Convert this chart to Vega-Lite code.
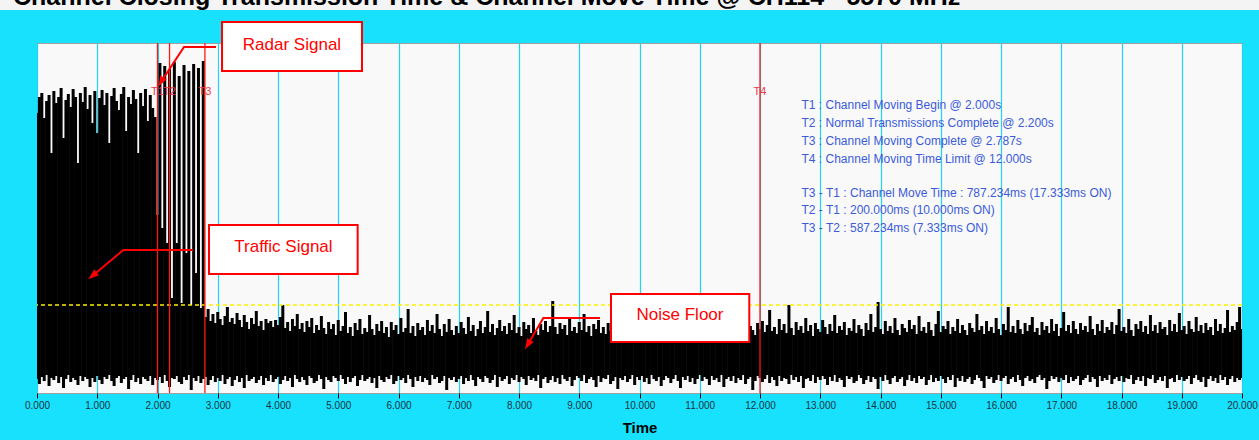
{
"$schema":"https://vega.github.io/schema/vega-lite/v6.json",
"width":1205,"height":350,
"autosize":{"type":"none"},
"padding":{"left":37,"top":43,"right":17,"bottom":47},
"background":"#17e1fd",
"config":{"view":{"fill":"#f9f9f9","stroke":"#a0a0a0","strokeWidth":1},"font":"Liberation Sans"},
"datasets":{
"sig":[
{"t":0,"hi":280,"lo":14},{"t":0.04,"hi":296,"lo":9},{"t":0.08,"hi":300,"lo":16},{"t":0.12,"hi":275,"lo":12},{"t":0.16,"hi":292,"lo":18},{"t":0.2,"hi":298,"lo":7},{"t":0.24,"hi":240,"lo":15},{"t":0.28,"hi":302,"lo":13},{"t":0.32,"hi":290,"lo":17},{"t":0.36,"hi":296,"lo":10},{"t":0.4,"hi":305,"lo":16},{"t":0.44,"hi":255,"lo":5},{"t":0.48,"hi":293,"lo":14},{"t":0.52,"hi":299,"lo":18},{"t":0.56,"hi":286,"lo":11},{"t":0.6,"hi":304,"lo":15},{"t":0.64,"hi":296,"lo":13},{"t":0.68,"hi":230,"lo":8},{"t":0.72,"hi":300,"lo":17},{"t":0.76,"hi":291,"lo":12},{"t":0.8,"hi":306,"lo":16},{"t":0.84,"hi":284,"lo":14},{"t":0.88,"hi":298,"lo":6},{"t":0.92,"hi":270,"lo":15},{"t":0.96,"hi":302,"lo":11},
{"t":1,"hi":260,"lo":17},{"t":1.04,"hi":295,"lo":13},{"t":1.08,"hi":303,"lo":9},{"t":1.12,"hi":288,"lo":16},{"t":1.16,"hi":300,"lo":14},{"t":1.2,"hi":250,"lo":18},{"t":1.24,"hi":297,"lo":12},{"t":1.28,"hi":305,"lo":7},{"t":1.32,"hi":292,"lo":15},{"t":1.36,"hi":283,"lo":17},{"t":1.4,"hi":299,"lo":10},{"t":1.44,"hi":306,"lo":14},{"t":1.48,"hi":262,"lo":16},{"t":1.52,"hi":296,"lo":4},{"t":1.56,"hi":289,"lo":13},{"t":1.6,"hi":303,"lo":18},{"t":1.64,"hi":294,"lo":11},{"t":1.68,"hi":240,"lo":15},{"t":1.72,"hi":300,"lo":9},{"t":1.76,"hi":287,"lo":16},{"t":1.8,"hi":304,"lo":14},{"t":1.84,"hi":272,"lo":12},{"t":1.88,"hi":298,"lo":17},{"t":1.92,"hi":285,"lo":8},{"t":1.96,"hi":276,"lo":15},
{"t":2,"hi":178,"lo":13},{"t":2.04,"hi":330,"lo":16},{"t":2.08,"hi":165,"lo":10},{"t":2.12,"hi":327,"lo":18},{"t":2.16,"hi":150,"lo":12},{"t":2.2,"hi":324,"lo":6},{"t":2.24,"hi":95,"lo":15},{"t":2.28,"hi":331,"lo":14},{"t":2.32,"hi":150,"lo":17},{"t":2.36,"hi":317,"lo":11},{"t":2.4,"hi":90,"lo":9},{"t":2.44,"hi":328,"lo":16},{"t":2.48,"hi":140,"lo":13},{"t":2.52,"hi":322,"lo":18},{"t":2.56,"hi":88,"lo":3},{"t":2.6,"hi":329,"lo":15},{"t":2.64,"hi":120,"lo":12},{"t":2.68,"hi":325,"lo":17},{"t":2.72,"hi":85,"lo":10},{"t":2.76,"hi":332,"lo":14},{"t":2.8,"hi":76,"lo":16},{"t":2.84,"hi":84,"lo":8},{"t":2.88,"hi":72,"lo":13},{"t":2.92,"hi":79,"lo":17},{"t":2.96,"hi":70,"lo":11},
{"t":3,"hi":81,"lo":15},{"t":3.04,"hi":74,"lo":12},{"t":3.08,"hi":68,"lo":18},{"t":3.12,"hi":77,"lo":9},{"t":3.16,"hi":86,"lo":14},{"t":3.2,"hi":71,"lo":16},{"t":3.24,"hi":75,"lo":7},{"t":3.28,"hi":69,"lo":13},{"t":3.32,"hi":80,"lo":17},{"t":3.36,"hi":73,"lo":11},{"t":3.4,"hi":66,"lo":15},{"t":3.44,"hi":78,"lo":5},{"t":3.48,"hi":71,"lo":18},{"t":3.52,"hi":64,"lo":12},{"t":3.56,"hi":75,"lo":14},{"t":3.6,"hi":69,"lo":16},{"t":3.64,"hi":82,"lo":10},{"t":3.68,"hi":67,"lo":13},{"t":3.72,"hi":72,"lo":17},{"t":3.76,"hi":63,"lo":8},{"t":3.8,"hi":74,"lo":15},{"t":3.84,"hi":70,"lo":12},{"t":3.88,"hi":72,"lo":18},{"t":3.92,"hi":66,"lo":11},{"t":3.96,"hi":73,"lo":14},
{"t":4,"hi":68,"lo":16},{"t":4.04,"hi":76,"lo":9},{"t":4.08,"hi":88,"lo":13},{"t":4.12,"hi":65,"lo":17},{"t":4.16,"hi":71,"lo":12},{"t":4.2,"hi":62,"lo":15},{"t":4.24,"hi":74,"lo":6},{"t":4.28,"hi":67,"lo":18},{"t":4.32,"hi":79,"lo":14},{"t":4.36,"hi":64,"lo":11},{"t":4.4,"hi":70,"lo":16},{"t":4.44,"hi":61,"lo":13},{"t":4.48,"hi":72,"lo":8},{"t":4.52,"hi":66,"lo":17},{"t":4.56,"hi":75,"lo":15},{"t":4.6,"hi":60,"lo":10},{"t":4.64,"hi":68,"lo":12},{"t":4.68,"hi":63,"lo":18},{"t":4.72,"hi":77,"lo":14},{"t":4.76,"hi":65,"lo":4},{"t":4.8,"hi":59,"lo":16},{"t":4.84,"hi":71,"lo":13},{"t":4.88,"hi":64,"lo":11},{"t":4.92,"hi":69,"lo":17},{"t":4.96,"hi":58,"lo":15},
{"t":5,"hi":73,"lo":12},{"t":5.04,"hi":62,"lo":18},{"t":5.08,"hi":67,"lo":14},{"t":5.12,"hi":81,"lo":9},{"t":5.16,"hi":60,"lo":16},{"t":5.2,"hi":66,"lo":11},{"t":5.24,"hi":57,"lo":15},{"t":5.28,"hi":70,"lo":17},{"t":5.32,"hi":63,"lo":7},{"t":5.36,"hi":74,"lo":13},{"t":5.4,"hi":59,"lo":18},{"t":5.44,"hi":65,"lo":12},{"t":5.48,"hi":61,"lo":14},{"t":5.52,"hi":78,"lo":16},{"t":5.56,"hi":64,"lo":10},{"t":5.6,"hi":58,"lo":15},{"t":5.64,"hi":69,"lo":5},{"t":5.68,"hi":62,"lo":17},{"t":5.72,"hi":72,"lo":13},{"t":5.76,"hi":60,"lo":11},{"t":5.8,"hi":66,"lo":16},{"t":5.84,"hi":56,"lo":14},{"t":5.88,"hi":71,"lo":18},{"t":5.92,"hi":63,"lo":9},{"t":5.96,"hi":68,"lo":12},
{"t":6,"hi":59,"lo":17},{"t":6.04,"hi":75,"lo":13},{"t":6.08,"hi":61,"lo":15},{"t":6.12,"hi":65,"lo":10},{"t":6.16,"hi":84,"lo":18},{"t":6.2,"hi":60,"lo":14},{"t":6.24,"hi":67,"lo":6},{"t":6.28,"hi":57,"lo":16},{"t":6.32,"hi":70,"lo":12},{"t":6.36,"hi":63,"lo":17},{"t":6.4,"hi":66,"lo":11},{"t":6.44,"hi":58,"lo":15},{"t":6.48,"hi":73,"lo":13},{"t":6.52,"hi":62,"lo":8},{"t":6.56,"hi":68,"lo":18},{"t":6.6,"hi":60,"lo":14},{"t":6.64,"hi":79,"lo":16},{"t":6.68,"hi":64,"lo":10},{"t":6.72,"hi":57,"lo":12},{"t":6.76,"hi":69,"lo":17},{"t":6.8,"hi":61,"lo":3},{"t":6.84,"hi":74,"lo":15},{"t":6.88,"hi":63,"lo":13},{"t":6.92,"hi":58,"lo":16},{"t":6.96,"hi":67,"lo":11},
{"t":7,"hi":60,"lo":14},{"t":7.04,"hi":71,"lo":17},{"t":7.08,"hi":65,"lo":9},{"t":7.12,"hi":59,"lo":15},{"t":7.16,"hi":76,"lo":12},{"t":7.2,"hi":62,"lo":18},{"t":7.24,"hi":68,"lo":13},{"t":7.28,"hi":57,"lo":7},{"t":7.32,"hi":64,"lo":16},{"t":7.36,"hi":72,"lo":14},{"t":7.4,"hi":60,"lo":11},{"t":7.44,"hi":66,"lo":17},{"t":7.48,"hi":82,"lo":15},{"t":7.52,"hi":61,"lo":10},{"t":7.56,"hi":69,"lo":13},{"t":7.6,"hi":58,"lo":18},{"t":7.64,"hi":65,"lo":6},{"t":7.68,"hi":73,"lo":16},{"t":7.72,"hi":62,"lo":12},{"t":7.76,"hi":67,"lo":14},{"t":7.8,"hi":59,"lo":17},{"t":7.84,"hi":70,"lo":9},{"t":7.88,"hi":63,"lo":15},{"t":7.92,"hi":78,"lo":13},{"t":7.96,"hi":60,"lo":18},
{"t":8,"hi":66,"lo":11},{"t":8.04,"hi":57,"lo":16},{"t":8.08,"hi":71,"lo":14},{"t":8.12,"hi":64,"lo":8},{"t":8.16,"hi":68,"lo":17},{"t":8.2,"hi":60,"lo":13},{"t":8.24,"hi":75,"lo":15},{"t":8.28,"hi":62,"lo":12},{"t":8.32,"hi":58,"lo":18},{"t":8.36,"hi":69,"lo":5},{"t":8.4,"hi":63,"lo":14},{"t":8.44,"hi":72,"lo":16},{"t":8.48,"hi":61,"lo":10},{"t":8.52,"hi":67,"lo":13},{"t":8.56,"hi":92,"lo":17},{"t":8.6,"hi":66,"lo":11},{"t":8.64,"hi":59,"lo":15},{"t":8.68,"hi":70,"lo":9},{"t":8.72,"hi":64,"lo":18},{"t":8.76,"hi":68,"lo":14},{"t":8.8,"hi":58,"lo":12},{"t":8.84,"hi":74,"lo":16},{"t":8.88,"hi":62,"lo":7},{"t":8.92,"hi":66,"lo":13},{"t":8.96,"hi":60,"lo":17},
{"t":9,"hi":71,"lo":15},{"t":9.04,"hi":63,"lo":12},{"t":9.08,"hi":79,"lo":18},{"t":9.12,"hi":61,"lo":10},{"t":9.16,"hi":67,"lo":14},{"t":9.2,"hi":57,"lo":16},{"t":9.24,"hi":69,"lo":13},{"t":9.28,"hi":64,"lo":6},{"t":9.32,"hi":73,"lo":17},{"t":9.36,"hi":60,"lo":11},{"t":9.4,"hi":66,"lo":15},{"t":9.44,"hi":59,"lo":14},{"t":9.48,"hi":70,"lo":18},{"t":9.52,"hi":62,"lo":9},{"t":9.56,"hi":76,"lo":12},{"t":9.6,"hi":61,"lo":16},{"t":9.64,"hi":68,"lo":4},{"t":9.68,"hi":58,"lo":15},{"t":9.72,"hi":65,"lo":13},{"t":9.76,"hi":72,"lo":17},{"t":9.8,"hi":60,"lo":11},{"t":9.84,"hi":67,"lo":14},{"t":9.88,"hi":63,"lo":18},{"t":9.92,"hi":81,"lo":8},{"t":9.96,"hi":59,"lo":16},
{"t":10,"hi":66,"lo":13},{"t":10.04,"hi":62,"lo":17},{"t":10.08,"hi":70,"lo":11},{"t":10.12,"hi":57,"lo":15},{"t":10.16,"hi":64,"lo":9},{"t":10.2,"hi":73,"lo":18},{"t":10.24,"hi":60,"lo":14},{"t":10.28,"hi":67,"lo":12},{"t":10.32,"hi":61,"lo":16},{"t":10.36,"hi":75,"lo":7},{"t":10.4,"hi":58,"lo":13},{"t":10.44,"hi":65,"lo":17},{"t":10.48,"hi":62,"lo":15},{"t":10.52,"hi":69,"lo":10},{"t":10.56,"hi":60,"lo":14},{"t":10.6,"hi":77,"lo":18},{"t":10.64,"hi":63,"lo":12},{"t":10.68,"hi":57,"lo":5},{"t":10.72,"hi":68,"lo":16},{"t":10.76,"hi":61,"lo":13},{"t":10.8,"hi":72,"lo":17},{"t":10.84,"hi":59,"lo":11},{"t":10.88,"hi":66,"lo":15},{"t":10.92,"hi":63,"lo":9},{"t":10.96,"hi":70,"lo":14},
{"t":11,"hi":58,"lo":18},{"t":11.04,"hi":74,"lo":12},{"t":11.08,"hi":62,"lo":16},{"t":11.12,"hi":67,"lo":14},{"t":11.16,"hi":60,"lo":8},{"t":11.2,"hi":80,"lo":17},{"t":11.24,"hi":64,"lo":13},{"t":11.28,"hi":57,"lo":15},{"t":11.32,"hi":69,"lo":11},{"t":11.36,"hi":61,"lo":18},{"t":11.4,"hi":66,"lo":6},{"t":11.44,"hi":59,"lo":14},{"t":11.48,"hi":73,"lo":16},{"t":11.52,"hi":63,"lo":12},{"t":11.56,"hi":68,"lo":17},{"t":11.6,"hi":58,"lo":10},{"t":11.64,"hi":71,"lo":15},{"t":11.68,"hi":62,"lo":13},{"t":11.72,"hi":65,"lo":18},{"t":11.76,"hi":76,"lo":9},{"t":11.8,"hi":60,"lo":14},{"t":11.84,"hi":67,"lo":16},{"t":11.88,"hi":63,"lo":3},{"t":11.92,"hi":58,"lo":12},{"t":11.96,"hi":70,"lo":17},
{"t":12,"hi":64,"lo":15},{"t":12.04,"hi":72,"lo":11},{"t":12.08,"hi":61,"lo":14},{"t":12.12,"hi":68,"lo":18},{"t":12.16,"hi":83,"lo":10},{"t":12.2,"hi":62,"lo":16},{"t":12.24,"hi":66,"lo":13},{"t":12.28,"hi":59,"lo":7},{"t":12.32,"hi":74,"lo":17},{"t":12.36,"hi":63,"lo":12},{"t":12.4,"hi":69,"lo":15},{"t":12.44,"hi":60,"lo":14},{"t":12.48,"hi":88,"lo":9},{"t":12.52,"hi":65,"lo":18},{"t":12.56,"hi":58,"lo":13},{"t":12.6,"hi":71,"lo":16},{"t":12.64,"hi":63,"lo":11},{"t":12.68,"hi":67,"lo":17},{"t":12.72,"hi":60,"lo":5},{"t":12.76,"hi":75,"lo":14},{"t":12.8,"hi":62,"lo":15},{"t":12.84,"hi":68,"lo":12},{"t":12.88,"hi":57,"lo":18},{"t":12.92,"hi":70,"lo":10},{"t":12.96,"hi":64,"lo":16},
{"t":13,"hi":61,"lo":13},{"t":13.04,"hi":73,"lo":17},{"t":13.08,"hi":66,"lo":14},{"t":13.12,"hi":59,"lo":8},{"t":13.16,"hi":69,"lo":16},{"t":13.2,"hi":62,"lo":12},{"t":13.24,"hi":78,"lo":18},{"t":13.28,"hi":60,"lo":11},{"t":13.32,"hi":67,"lo":15},{"t":13.36,"hi":63,"lo":13},{"t":13.4,"hi":71,"lo":6},{"t":13.44,"hi":58,"lo":17},{"t":13.48,"hi":65,"lo":14},{"t":13.52,"hi":62,"lo":16},{"t":13.56,"hi":74,"lo":10},{"t":13.6,"hi":60,"lo":12},{"t":13.64,"hi":68,"lo":18},{"t":13.68,"hi":64,"lo":15},{"t":13.72,"hi":57,"lo":9},{"t":13.76,"hi":70,"lo":13},{"t":13.8,"hi":63,"lo":17},{"t":13.84,"hi":79,"lo":11},{"t":13.88,"hi":61,"lo":16},{"t":13.92,"hi":66,"lo":14},{"t":13.96,"hi":91,"lo":4},
{"t":14,"hi":64,"lo":16},{"t":14.04,"hi":59,"lo":12},{"t":14.08,"hi":72,"lo":18},{"t":14.12,"hi":62,"lo":13},{"t":14.16,"hi":67,"lo":9},{"t":14.2,"hi":60,"lo":15},{"t":14.24,"hi":75,"lo":17},{"t":14.28,"hi":63,"lo":11},{"t":14.32,"hi":58,"lo":14},{"t":14.36,"hi":69,"lo":16},{"t":14.4,"hi":65,"lo":7},{"t":14.44,"hi":61,"lo":13},{"t":14.48,"hi":73,"lo":18},{"t":14.52,"hi":64,"lo":12},{"t":14.56,"hi":68,"lo":15},{"t":14.6,"hi":59,"lo":10},{"t":14.64,"hi":77,"lo":17},{"t":14.68,"hi":62,"lo":14},{"t":14.72,"hi":66,"lo":16},{"t":14.76,"hi":60,"lo":8},{"t":14.8,"hi":71,"lo":13},{"t":14.84,"hi":63,"lo":18},{"t":14.88,"hi":57,"lo":11},{"t":14.92,"hi":69,"lo":15},{"t":14.96,"hi":82,"lo":12},
{"t":15,"hi":61,"lo":17},{"t":15.04,"hi":67,"lo":14},{"t":15.08,"hi":64,"lo":10},{"t":15.12,"hi":72,"lo":16},{"t":15.16,"hi":59,"lo":13},{"t":15.2,"hi":66,"lo":18},{"t":15.24,"hi":62,"lo":6},{"t":15.28,"hi":74,"lo":15},{"t":15.32,"hi":60,"lo":12},{"t":15.36,"hi":68,"lo":17},{"t":15.4,"hi":63,"lo":11},{"t":15.44,"hi":58,"lo":14},{"t":15.48,"hi":70,"lo":16},{"t":15.52,"hi":65,"lo":9},{"t":15.56,"hi":61,"lo":13},{"t":15.6,"hi":79,"lo":18},{"t":15.64,"hi":63,"lo":15},{"t":15.68,"hi":67,"lo":12},{"t":15.72,"hi":59,"lo":5},{"t":15.76,"hi":72,"lo":17},{"t":15.8,"hi":62,"lo":14},{"t":15.84,"hi":66,"lo":16},{"t":15.88,"hi":60,"lo":10},{"t":15.92,"hi":75,"lo":13},{"t":15.96,"hi":64,"lo":18},
{"t":16,"hi":58,"lo":12},{"t":16.04,"hi":69,"lo":15},{"t":16.08,"hi":63,"lo":17},{"t":16.12,"hi":86,"lo":9},{"t":16.16,"hi":61,"lo":14},{"t":16.2,"hi":67,"lo":16},{"t":16.24,"hi":60,"lo":11},{"t":16.28,"hi":73,"lo":18},{"t":16.32,"hi":64,"lo":13},{"t":16.36,"hi":59,"lo":7},{"t":16.4,"hi":70,"lo":15},{"t":16.44,"hi":62,"lo":17},{"t":16.48,"hi":68,"lo":12},{"t":16.52,"hi":76,"lo":14},{"t":16.56,"hi":61,"lo":10},{"t":16.6,"hi":65,"lo":16},{"t":16.64,"hi":58,"lo":18},{"t":16.68,"hi":71,"lo":13},{"t":16.72,"hi":63,"lo":15},{"t":16.76,"hi":67,"lo":4},{"t":16.8,"hi":60,"lo":12},{"t":16.84,"hi":74,"lo":17},{"t":16.88,"hi":62,"lo":14},{"t":16.92,"hi":69,"lo":16},{"t":16.96,"hi":57,"lo":11},
{"t":17,"hi":65,"lo":15},{"t":17.04,"hi":81,"lo":13},{"t":17.08,"hi":62,"lo":18},{"t":17.12,"hi":68,"lo":10},{"t":17.16,"hi":60,"lo":16},{"t":17.2,"hi":72,"lo":12},{"t":17.24,"hi":64,"lo":14},{"t":17.28,"hi":59,"lo":17},{"t":17.32,"hi":70,"lo":8},{"t":17.36,"hi":63,"lo":13},{"t":17.4,"hi":67,"lo":15},{"t":17.44,"hi":61,"lo":18},{"t":17.48,"hi":77,"lo":11},{"t":17.52,"hi":64,"lo":16},{"t":17.56,"hi":58,"lo":14},{"t":17.6,"hi":69,"lo":6},{"t":17.64,"hi":62,"lo":17},{"t":17.68,"hi":73,"lo":12},{"t":17.72,"hi":60,"lo":15},{"t":17.76,"hi":66,"lo":13},{"t":17.8,"hi":63,"lo":18},{"t":17.84,"hi":71,"lo":9},{"t":17.88,"hi":59,"lo":14},{"t":17.92,"hi":68,"lo":16},{"t":17.96,"hi":84,"lo":12},
{"t":18,"hi":62,"lo":17},{"t":18.04,"hi":66,"lo":11},{"t":18.08,"hi":60,"lo":15},{"t":18.12,"hi":74,"lo":14},{"t":18.16,"hi":63,"lo":18},{"t":18.2,"hi":57,"lo":9},{"t":18.24,"hi":69,"lo":13},{"t":18.28,"hi":64,"lo":16},{"t":18.32,"hi":72,"lo":12},{"t":18.36,"hi":61,"lo":17},{"t":18.4,"hi":67,"lo":7},{"t":18.44,"hi":59,"lo":15},{"t":18.48,"hi":78,"lo":14},{"t":18.52,"hi":62,"lo":18},{"t":18.56,"hi":68,"lo":10},{"t":18.6,"hi":60,"lo":13},{"t":18.64,"hi":71,"lo":16},{"t":18.68,"hi":64,"lo":12},{"t":18.72,"hi":66,"lo":17},{"t":18.76,"hi":58,"lo":5},{"t":18.8,"hi":73,"lo":14},{"t":18.84,"hi":62,"lo":15},{"t":18.88,"hi":69,"lo":11},{"t":18.92,"hi":61,"lo":18},{"t":18.96,"hi":80,"lo":13},
{"t":19,"hi":63,"lo":16},{"t":19.04,"hi":67,"lo":12},{"t":19.08,"hi":59,"lo":14},{"t":19.12,"hi":72,"lo":17},{"t":19.16,"hi":64,"lo":9},{"t":19.2,"hi":61,"lo":15},{"t":19.24,"hi":76,"lo":18},{"t":19.28,"hi":62,"lo":13},{"t":19.32,"hi":68,"lo":11},{"t":19.36,"hi":60,"lo":16},{"t":19.4,"hi":70,"lo":6},{"t":19.44,"hi":63,"lo":14},{"t":19.48,"hi":66,"lo":17},{"t":19.52,"hi":58,"lo":12},{"t":19.56,"hi":74,"lo":15},{"t":19.6,"hi":62,"lo":10},{"t":19.64,"hi":69,"lo":18},{"t":19.68,"hi":60,"lo":13},{"t":19.72,"hi":65,"lo":16},{"t":19.76,"hi":83,"lo":8},{"t":19.8,"hi":61,"lo":14},{"t":19.84,"hi":67,"lo":17},{"t":19.88,"hi":63,"lo":11},{"t":19.92,"hi":71,"lo":15},{"t":19.96,"hi":86,"lo":13},
{"t":20,"hi":64,"lo":15}
],
"tl":[{"name":"T1","t":2.0},{"name":"T2","t":2.2},{"name":"T3","t":2.787},{"name":"T4","t":12.0}],
"boxes":[
{"label":"Radar Signal","t1":3.071,"t2":5.394,"v1":322,"v2":371,"tc":4.232,"vc":348},
{"label":"Traffic Signal","t1":2.855,"t2":5.322,"v1":119,"v2":168,"tc":4.09,"vc":146},
{"label":"Noise Floor","t1":9.527,"t2":11.822,"v1":51,"v2":99,"tc":10.672,"vc":78}
],
"arrows":[
{"arrow":"radar","o":1,"t":2.971,"v":346},{"arrow":"radar","o":2,"t":2.44,"v":346},{"arrow":"radar","o":3,"t":2.068,"v":312},
{"arrow":"traffic","o":1,"t":2.589,"v":143},{"arrow":"traffic","o":2,"t":1.433,"v":143},{"arrow":"traffic","o":3,"t":0.937,"v":118},
{"arrow":"noise","o":1,"t":9.344,"v":75},{"arrow":"noise","o":2,"t":8.404,"v":75},{"arrow":"noise","o":3,"t":8.156,"v":49.5}
],
"heads":[
{"arrow":"radar","t":2.068,"v":312.1},
{"arrow":"traffic","t":0.937,"v":118},
{"arrow":"noise","t":8.156,"v":49.5}
]
},
"layer":[
{"data":{"name":"sig"},
 "mark":{"type":"rule","color":"#000000","strokeWidth":3,"clip":true},
 "encoding":{
  "x":{"field":"t","type":"quantitative","scale":{"domain":[0,20],"nice":false,"zero":false},
       "axis":{"values":[0,1,2,3,4,5,6,7,8,9,10,11,12,13,14,15,16,17,18,19,20],"format":".3f","title":"Time","grid":true,"gridColor":"#20d4f4","gridWidth":1.2,"gridOpacity":1,"domain":false,"ticks":true,"tickColor":"#000000","tickSize":5,"tickWidth":1,"labelFontSize":10,"labelColor":"#1a3340","labelPadding":2,"labelFlush":false,"labelFont":"Liberation Sans","titleFont":"Liberation Sans","titleFontSize":15,"titleFontWeight":"bold","titleColor":"#000000","titlePadding":10}},
  "y":{"field":"hi","type":"quantitative","scale":{"domain":[0,350],"nice":false,"zero":false},"axis":null},
  "y2":{"field":"lo"}}},
{"data":{"values":[{"level":88}]},
 "mark":{"type":"rule","color":"#ffee00","strokeDash":[4,3],"strokeWidth":1.3},
 "encoding":{"y":{"field":"level","type":"quantitative","axis":null}}},
{"data":{"name":"tl"},
 "mark":{"type":"rule","color":"#ff1a1a","strokeWidth":1.3},
 "encoding":{"x":{"field":"t","type":"quantitative"}}},
{"data":{"name":"tl"},
 "mark":{"type":"text","color":"#f0384a","fontSize":11,"align":"center","baseline":"middle","font":"Liberation Sans"},
 "encoding":{"x":{"field":"t","type":"quantitative"},"y":{"datum":301,"axis":null},"text":{"field":"name"}}},
{"data":{"values":[{}]},
 "mark":{"type":"rect","fill":"#f4f4f4","clip":false},
 "encoding":{"x":{"datum":-0.62},"x2":{"datum":20.3},"y":{"datum":393.5,"axis":null},"y2":{"datum":383}}},
{"data":{"values":[{"heading":"Channel Closing Transmission Time & Channel Move Time @ CH114 - 5570 MHz"}]},
 "mark":{"type":"text","align":"left","baseline":"alphabetic","fontSize":25,"fontWeight":"bold","color":"#000000","font":"Liberation Sans"},
 "encoding":{"x":{"datum":-0.398},"y":{"datum":388.5,"axis":null},"text":{"field":"heading"}}},
{"data":{"values":[{}]},
 "mark":{"type":"text","align":"left","baseline":"top","fontSize":12,"color":"#3b5bdb","lineHeight":17.9,"font":"Liberation Sans"},
 "encoding":{"x":{"datum":12.689},"y":{"datum":293,"axis":null},
  "text":{"value":["T1 : Channel Moving Begin @ 2.000s","T2 : Normal Transmissions Complete @ 2.200s","T3 : Channel Moving Complete @ 2.787s","T4 : Channel Moving Time Limit @ 12.000s"]}}},
{"data":{"values":[{}]},
 "mark":{"type":"text","align":"left","baseline":"top","fontSize":12,"color":"#3b5bdb","lineHeight":17.7,"font":"Liberation Sans"},
 "encoding":{"x":{"datum":12.689},"y":{"datum":205.5,"axis":null},
  "text":{"value":["T3 - T1 : Channel Move Time : 787.234ms (17.333ms ON)","T2 - T1 : 200.000ms (10.000ms ON)","T3 - T2 : 587.234ms (7.333ms ON)"]}}},
{"data":{"name":"arrows"},
 "mark":{"type":"line","color":"#ff0000","strokeWidth":2},
 "encoding":{"x":{"field":"t","type":"quantitative"},"y":{"field":"v","type":"quantitative","axis":null},"detail":{"field":"arrow"},"order":{"field":"o"}}},
{"data":{"name":"heads"},"transform":[{"filter":"datum.arrow === 'radar'"}],
 "mark":{"type":"point","shape":"M0,-1L0.55,0.6L-0.55,0.6Z","filled":true,"color":"#ff0000","opacity":1,"size":180,"angle":209.4},
 "encoding":{"x":{"field":"t","type":"quantitative"},"y":{"field":"v","type":"quantitative","axis":null}}},
{"data":{"name":"heads"},"transform":[{"filter":"datum.arrow === 'traffic'"}],
 "mark":{"type":"point","shape":"M0,-1L0.55,0.6L-0.55,0.6Z","filled":true,"color":"#ff0000","opacity":1,"size":180,"angle":230.3},
 "encoding":{"x":{"field":"t","type":"quantitative"},"y":{"field":"v","type":"quantitative","axis":null}}},
{"data":{"name":"heads"},"transform":[{"filter":"datum.arrow === 'noise'"}],
 "mark":{"type":"point","shape":"M0,-1L0.55,0.6L-0.55,0.6Z","filled":true,"color":"#ff0000","opacity":1,"size":180,"angle":210.2},
 "encoding":{"x":{"field":"t","type":"quantitative"},"y":{"field":"v","type":"quantitative","axis":null}}},
{"data":{"name":"boxes"},
 "mark":{"type":"rect","fill":"#ffffff","stroke":"#ff0000","strokeWidth":2},
 "encoding":{"x":{"field":"t1","type":"quantitative"},"x2":{"field":"t2"},"y":{"field":"v1","type":"quantitative","axis":null},"y2":{"field":"v2"}}},
{"data":{"name":"boxes"},
 "mark":{"type":"text","color":"#ff0000","fontSize":17,"align":"center","baseline":"middle","font":"Liberation Sans"},
 "encoding":{"x":{"field":"tc","type":"quantitative"},"y":{"field":"vc","type":"quantitative","axis":null},"text":{"field":"label"}}}
]
}
